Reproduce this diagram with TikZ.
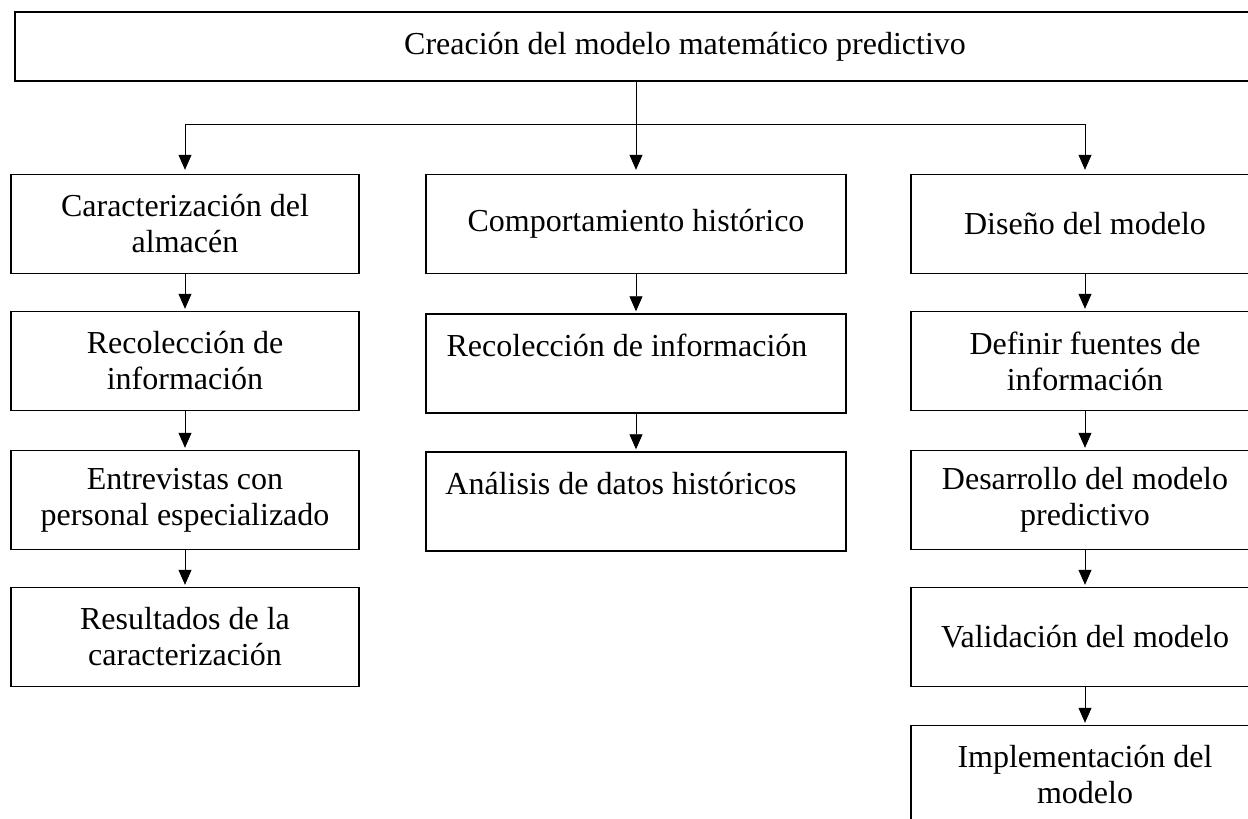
\documentclass[tikz,border=0pt]{standalone}
\usepackage{fontspec}
\setmainfont{Liberation Serif}
\usetikzlibrary{arrows.meta}

\tikzset{
  caja/.style={draw=black, line width=0.7pt, minimum width=174pt, minimum height=49.5pt,
    align=center, inner sep=2pt, font=\fontsize{16}{18}\selectfont},
  ancha/.style={caja, minimum width=210pt},
  flecha/.style={-{Triangle[length=7.5pt,width=6.5pt]}, line width=0.4pt, shorten >=1pt},
  linea/.style={line width=0.4pt}
}

\begin{document}
\begin{tikzpicture}[x=0.5pt, y=0.5pt]
  \useasboundingbox (0,0) rectangle (1248,819);

  % Title
  \node[caja, minimum width=670pt, minimum height=34.5pt] (titulo) at (685, 772.5)
     {Creación del modelo matemático predictivo};

  % Left column
  \node[caja] (izq1) at (185, 595) {Caracterización del\\ almacén};
  \node[caja] (izq2) at (185, 458) {Recolección de\\ información};
  \node[caja] (izq3) at (185, 319) {Entrevistas con\\ personal especializado};
  \node[caja] (izq4) at (185, 182) {Resultados de la\\ caracterización};

  % Middle column
  \node[ancha] (med1) at (636, 595) {Comportamiento histórico};
  \node[ancha] (med2) at (636, 455.5) {Recolección de información\hspace*{9pt}\\ \mbox{}};
  \node[ancha] (med3) at (636, 317.5) {Análisis de datos históricos\hspace*{15pt}\\ \mbox{}};

  % Right column
  \node[caja] (der1) at (1085, 595) {Diseño del modelo};
  \node[caja] (der2) at (1085, 458) {Definir fuentes de\\ información};
  \node[caja] (der3) at (1085, 319) {Desarrollo del modelo\\ predictivo};
  \node[caja] (der4) at (1085, 182) {Validación del modelo};
  \node[caja] (der5) at (1085, 44) {Implementación del\\ modelo};

  % Branching
  \coordinate (reparto) at (0, 695);
  \draw[linea] (izq1.north |- reparto) -- (der1.north |- reparto);
  \draw[flecha, shorten >=2pt] (titulo.south -| med1.north) -- (med1.north);
  \draw[flecha, shorten >=2pt] (izq1.north |- reparto) -- (izq1.north);
  \draw[flecha, shorten >=2pt] (der1.north |- reparto) -- (der1.north);

  % Column arrows
  \draw[flecha] (izq1) -- (izq2);
  \draw[flecha] (izq2) -- (izq3);
  \draw[flecha] (izq3) -- (izq4);
  \draw[flecha] (med1) -- (med2);
  \draw[flecha] (med2) -- (med3);
  \draw[flecha] (der1) -- (der2);
  \draw[flecha] (der2) -- (der3);
  \draw[flecha] (der3) -- (der4);
  \draw[flecha] (der4) -- (der5);
\end{tikzpicture}
\end{document}
